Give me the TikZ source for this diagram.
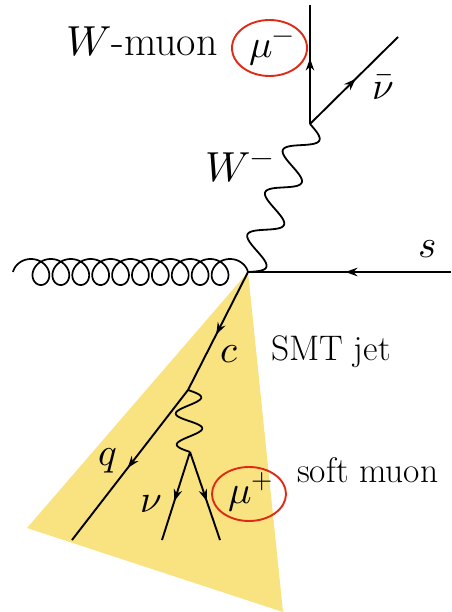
\documentclass[tikz,border=0pt]{standalone}
\usepackage{unicode-math}
\usetikzlibrary{decorations.markings,arrows.meta}
\definecolor{jetyellow}{RGB}{249,226,128}
\definecolor{ringred}{RGB}{222,42,22}
\begin{document}
\begin{tikzpicture}[x=1pt,y=1pt,
  fermion/.style={line width=1.9pt},
  boson/.style={line width=1.8pt},
  gluon/.style={line width=1.7pt},
  arr/.style={postaction={decorate},
    decoration={markings, mark=at position #1 with {\arrow{Stealth[length=12pt,width=8.5pt]}}}},
  mlab/.style={inner sep=0pt, anchor=base west, font=\fontsize{39}{41}\selectfont},
  blab/.style={inner sep=0pt, anchor=base west, font=\fontsize{42}{44}\selectfont},
  tlab/.style={inner sep=0pt, anchor=base west, font=\fontsize{35.5}{38}\selectfont},
  ring/.style={draw=ringred, line width=1.9pt}]
\useasboundingbox (0,0) rectangle (451,-612);

% coordinates
\coordinate (V)   at (248,-272);
\coordinate (G)   at (13,-272);
\coordinate (S)   at (451,-272);
\coordinate (Wv)  at (310,-124);
\coordinate (Mt)  at (310,-5);
\coordinate (Nb)  at (398,-37);
\coordinate (J1)  at (188,-390);
\coordinate (Q)   at (72,-540);
\coordinate (J2)  at (190,-452);
\coordinate (N)   at (162,-540);
\coordinate (Mp)  at (220,-540);
\coordinate (JL)  at (27,-528);
\coordinate (JR)  at (283,-612);

% jet cone
\fill[jetyellow] (V) -- (JL) -- (JR) -- cycle;

% gluon (G to V)
\draw[gluon, shift={(G)}]
  plot[domain=90:3870, samples=800, smooth]
  ({0.055278*(\x-90) - 13*sin(\x) + 13}, {-13*cos(\x)});

% s quark
\draw[fermion, arr=0.52] (S) -- (V);

% W boson (V to Wv)
\draw[boson, shift={(V)}, rotate=67.27]
  plot[domain=0:160.5, samples=160, smooth] (\x, {-15*sin(\x*7.8505)});

% W decay
\draw[fermion, arr=0.55] (Wv) -- (Mt);
\draw[fermion, arr=0.52] (Wv) -- (Nb);

% c quark and q
\draw[fermion, arr=0.53] (V) -- (J1);
\draw[fermion, arr=0.52] (J1) -- (Q);

% soft W (J1 to J2)
\draw[boson, shift={(J1)}, rotate=-88.15]
  plot[domain=0:62, samples=120, smooth] (\x, {13*sin(\x*11.6129)});

% soft decay
\draw[fermion, arr=0.56] (J2) -- (N);
\draw[fermion, arr=0.56] (J2) -- (Mp);

% labels
\node[blab] (wmuon) at (66,-56) {$W$-muon};
\node[mlab] (mum) at (249,-58) {$\mu^-$};
\draw[ring] (269.5,-48) ellipse [x radius=37.5, y radius=28];
\node[mlab] (nubar) at (372,-100) {$\bar\nu$};
\node[blab] (wlab) at (205,-182) {$W^-$};
\node[mlab] (slab) at (418,-257) {$s$};
\node[mlab] (clab) at (220,-362) {$c$};
\node[tlab] (smt) at (271,-360) {SMT jet};
\node[mlab] (qlab) at (98,-465) {$q$};
\node[mlab] (nulab) at (140,-512) {$\nu$};
\node[mlab] (mup) at (228,-503) {$\mu^+$};
\draw[ring] (249,-494) ellipse [x radius=37, y radius=27];
\node[tlab] (soft) at (297,-482) {soft muon};
\end{tikzpicture}
\end{document}
